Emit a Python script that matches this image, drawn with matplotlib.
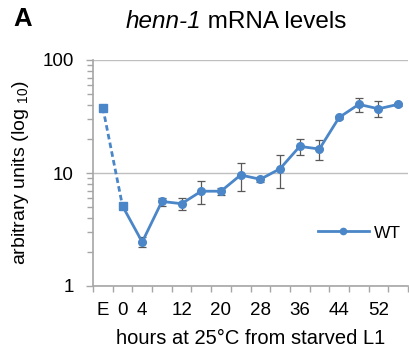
import matplotlib
matplotlib.use("Agg")
import matplotlib.pyplot as plt
from matplotlib.ticker import FixedLocator, NullFormatter, LogLocator, FixedFormatter
from matplotlib.lines import Line2D

plt.rcParams['font.family'] = ['Liberation Sans', 'DejaVu Sans']
plt.rcParams['mathtext.fontset'] = 'custom'
plt.rcParams['mathtext.rm'] = 'Liberation Sans'
plt.rcParams['mathtext.it'] = 'Liberation Sans:italic'

categories = ["E", "0", "4", "8", "12", "16", "20", "24", "28", "32", "36", "40", "44", "48", "52", "56"]
shown_labels = ["E", "0", "4", "", "12", "", "20", "", "28", "", "36", "", "44", "", "52", ""]
values = [37.8, 5.1, 2.45, 5.6, 5.35, 6.9, 6.9, 9.6, 8.8, 10.9, 17.2, 16.3, 31.0, 40.5, 37.0, 40.5]
errors = [1.8, 0.3, 0.25, 0.45, 0.6, 1.6, 0.45, 2.7, 0.45, 3.6, 2.8, 3.3, 0.8, 5.7, 6.0, 1.5]

blue = "#4A86C8"
grid_gray = "#BFBFBF"
axis_gray = "#A6A6A6"

W, H = 409, 364
fig = plt.figure(figsize=(W / 100, H / 100), dpi=100)
ax = fig.add_axes([93 / W, 1 - 286 / H, 315 / W, 226 / H])

x = list(range(len(categories)))

ax.errorbar(x, values, yerr=errors, fmt='none', ecolor="#595959", elinewidth=0.9,
            capsize=3, capthick=0.9, zorder=3)
ax.plot(x[1:], values[1:], linestyle='-', color=blue, linewidth=2.0,
        marker='o', markersize=5.5, zorder=4)
ax.plot(x[:2], values[:2], linestyle=(0, (2, 1.2)), color=blue, linewidth=2.0,
        marker='s', markersize=5.5, zorder=5)

ax.set_yscale('log')
ax.set_ylim(1, 100)
ax.set_xlim(-0.5, len(categories) - 0.5)

ax.yaxis.set_major_locator(FixedLocator([1, 10, 100]))
ax.yaxis.set_major_formatter(FixedFormatter(["1", "10", "100"]))
ax.yaxis.set_minor_locator(LogLocator(base=10, subs=range(2, 10)))
ax.yaxis.set_minor_formatter(NullFormatter())
ax.grid(axis='y', which='major', color=grid_gray, linewidth=1.0, zorder=0)

ax.xaxis.set_major_locator(FixedLocator(x))
ax.xaxis.set_major_formatter(FixedFormatter(shown_labels))
ax.xaxis.set_minor_locator(FixedLocator([i - 0.5 for i in range(len(categories) + 1)]))
ax.tick_params(axis='x', which='major', length=0, pad=11.5, labelsize=13.5)
ax.tick_params(axis='x', which='minor', length=4.5, width=1, color=axis_gray, direction='out')
ax.tick_params(axis='y', which='major', length=5, width=1, color=axis_gray, labelsize=13.5, pad=9)
ax.tick_params(axis='y', which='minor', length=4, width=1, color=axis_gray)

for s in ['top', 'right']:
    ax.spines[s].set_visible(False)
for s in ['left', 'bottom']:
    ax.spines[s].set_color(axis_gray)
    ax.spines[s].set_linewidth(1.2)

ax.set_xlabel("hours at 25°C from starved L1", fontsize=14.5, labelpad=7)
ax.set_ylabel("arbitrary units (log $_{10}$)", fontsize=14)
ax.yaxis.set_label_coords((31 - 93) / 315, 0.5)

# title with italic gene name
fig.canvas.draw()
r = fig.canvas.get_renderer()
t1 = fig.text(0, 1 - 22 / H, "henn-1", fontsize=17.5, style='italic', ha='left', va='center')
t2 = fig.text(0, 1 - 22 / H, " mRNA levels", fontsize=17.5, ha='left', va='center')
w1 = t1.get_window_extent(r).width
w2 = t2.get_window_extent(r).width
x0 = 236 - (w1 + w2) / 2
t1.set_x(x0 / W)
t2.set_x((x0 + w1) / W)

fig.text(13 / W, 1 - 19 / H, "A", fontsize=18.5, fontweight='bold', ha='left', va='center')

handle = Line2D([], [], color=blue, linewidth=2.0, marker='o', markersize=4.5)
ax.legend([handle], ["WT"], loc='center right', bbox_to_anchor=(401 / W, 1 - 233 / H),
          bbox_transform=fig.transFigure, frameon=False, fontsize=12.5,
          handlelength=2.95, handletextpad=0.3, borderpad=0, borderaxespad=0)

fig.savefig("out.png", dpi=100)
